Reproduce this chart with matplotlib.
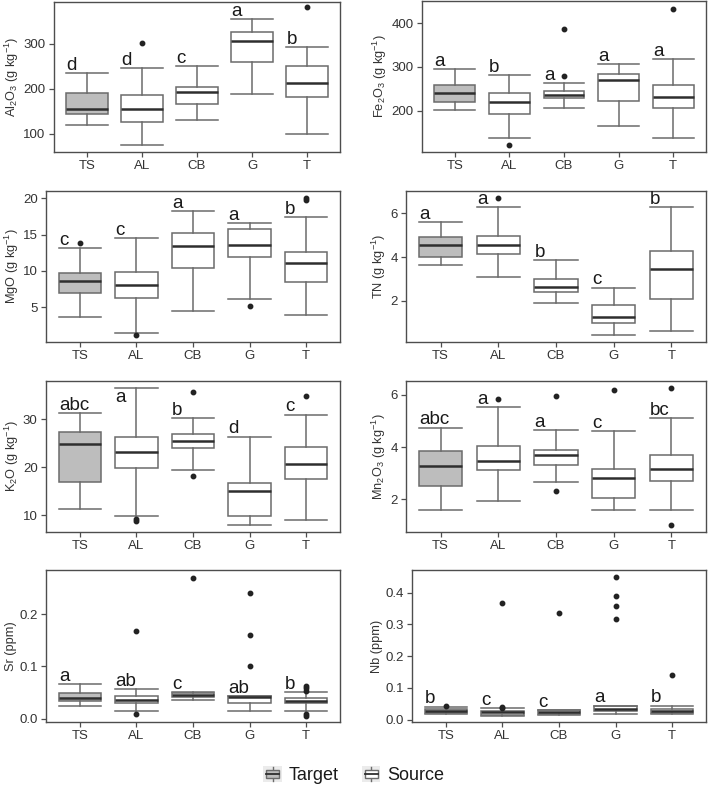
import matplotlib
matplotlib.use('Agg')
import matplotlib.pyplot as plt
from matplotlib.legend_handler import HandlerBase
from matplotlib.patches import Rectangle, Patch
from matplotlib.lines import Line2D

plt.rcParams['font.family'] = ['Liberation Sans', 'DejaVu Sans']
plt.rcParams['mathtext.fontset'] = 'custom'
plt.rcParams['mathtext.rm'] = 'Liberation Sans'
plt.rcParams['mathtext.it'] = 'Liberation Sans:italic'
plt.rcParams['mathtext.bf'] = 'Liberation Sans:bold'

groups = ['TS', 'AL', 'CB', 'G', 'T']

# ---- Al2O3 ----
al2o3_whislo = [119, 75, 130, 188, 100]
al2o3_q1 = [144, 127, 167, 259, 183]
al2o3_med = [155, 156, 193, 307, 213]
al2o3_q3 = [192, 187, 204, 326, 252]
al2o3_whishi = [235, 247, 250, 355, 292]
al2o3_fliers = [[], [302], [], [], [381]]
al2o3_letters = ['d', 'd', 'c', 'a', 'b']

# ---- Fe2O3 ----
fe2o3_whislo = [202, 136, 206, 164, 136]
fe2o3_q1 = [219, 193, 228, 221, 205]
fe2o3_med = [241, 220, 236, 269, 232]
fe2o3_q3 = [258, 240, 245, 284, 258]
fe2o3_whishi = [296, 282, 264, 306, 318]
fe2o3_fliers = [[], [121], [387, 279], [], [433]]
fe2o3_letters = ['a', 'b', 'a', 'a', 'a']

# ---- MgO ----
mgo_whislo = [3.67, 1.46, 4.45, 6.2, 4.0]
mgo_q1 = [7.03, 6.29, 10.39, 11.9, 8.5]
mgo_med = [8.6, 8.04, 13.42, 13.5, 11.08]
mgo_q3 = [9.7, 9.79, 15.17, 15.77, 12.64]
mgo_whishi = [13.15, 14.57, 18.2, 16.55, 17.42]
mgo_fliers = [[13.9], [1.14], [], [5.19], [20.0, 19.7]]
mgo_letters = ['c', 'c', 'a', 'a', 'b']

# ---- TN ----
tn_whislo = [3.62, 3.1, 1.92, 0.43, 0.61]
tn_q1 = [4.0, 4.12, 2.4, 0.98, 2.1]
tn_med = [4.53, 4.53, 2.64, 1.25, 3.44]
tn_q3 = [4.93, 4.98, 3.0, 1.83, 4.29]
tn_whishi = [5.6, 6.3, 3.88, 2.61, 6.3]
tn_fliers = [[], [6.72], [], [], []]
tn_letters = ['a', 'a', 'b', 'c', 'b']

# ---- K2O ----
k2o_whislo = [11.25, 9.8, 19.4, 8.0, 8.96]
k2o_q1 = [16.8, 19.8, 23.96, 9.8, 17.6]
k2o_med = [24.8, 23.1, 25.55, 15.1, 20.6]
k2o_q3 = [27.3, 26.4, 27.0, 16.7, 24.2]
k2o_whishi = [31.25, 36.6, 30.3, 26.4, 31.0]
k2o_fliers = [[], [9.17, 8.7], [35.6, 18.1], [], [34.9]]
k2o_letters = ['abc', 'a', 'b', 'd', 'c']

# ---- Mn2O3 ----
mn2o3_whislo = [1.58, 1.95, 2.66, 1.6, 1.6]
mn2o3_q1 = [2.52, 3.11, 3.32, 2.05, 2.71]
mn2o3_med = [3.29, 3.48, 3.69, 2.82, 3.17]
mn2o3_q3 = [3.85, 4.06, 3.89, 3.17, 3.71]
mn2o3_whishi = [4.75, 5.52, 4.65, 4.62, 5.1]
mn2o3_fliers = [[], [5.85], [5.97, 2.31], [6.19], [6.28, 1.03]]
mn2o3_letters = ['abc', 'a', 'a', 'c', 'bc']

# ---- Sr ----
sr_whislo = [0.0236, 0.0153, 0.0363, 0.0146, 0.0153]
sr_q1 = [0.0338, 0.030, 0.0414, 0.0293, 0.0306]
sr_med = [0.040, 0.0357, 0.0459, 0.0415, 0.0344]
sr_q3 = [0.049, 0.0427, 0.0497, 0.0433, 0.0395]
sr_whishi = [0.0669, 0.0573, 0.052, 0.0433, 0.0516]
sr_fliers = [[], [0.1675, 0.0096], [0.269], [0.241, 0.160, 0.100],
             [0.063, 0.058, 0.054, 0.0102, 0.0057]]
sr_letters = ['a', 'ab', 'c', 'ab', 'b']

# ---- Nb ----
nb_whislo = [0.018, 0.0127, 0.016, 0.019, 0.017]
nb_q1 = [0.021, 0.0148, 0.019, 0.0265, 0.021]
nb_med = [0.0275, 0.0233, 0.0254, 0.035, 0.0286]
nb_q3 = [0.034, 0.0286, 0.0296, 0.0434, 0.035]
nb_whishi = [0.0413, 0.037, 0.0307, 0.0444, 0.0444]
nb_fliers = [[0.043], [0.367, 0.041, 0.037], [0.335],
             [0.45, 0.388, 0.359, 0.317], [0.142]]
nb_letters = ['b', 'c', 'c', 'a', 'b']

panels = [
    dict(label=r'Al$_2$O$_3$ (g kg$^{-1}$)', lo=al2o3_whislo, q1=al2o3_q1, med=al2o3_med,
         q3=al2o3_q3, hi=al2o3_whishi, fl=al2o3_fliers, let=al2o3_letters,
         ylim=(60, 393), ticks=[100, 200, 300], fmt='{:g}', rect=(54, 2, 340, 152)),
    dict(label=r'Fe$_2$O$_3$ (g kg$^{-1}$)', lo=fe2o3_whislo, q1=fe2o3_q1, med=fe2o3_med,
         q3=fe2o3_q3, hi=fe2o3_whishi, fl=fe2o3_fliers, let=fe2o3_letters,
         ylim=(105, 451), ticks=[200, 300, 400], fmt='{:g}', rect=(422, 1, 706, 152)),
    dict(label=r'MgO (g kg$^{-1}$)', lo=mgo_whislo, q1=mgo_q1, med=mgo_med,
         q3=mgo_q3, hi=mgo_whishi, fl=mgo_fliers, let=mgo_letters,
         ylim=(0.22, 21.0), ticks=[5, 10, 15, 20], fmt='{:g}', rect=(46, 191, 340, 342)),
    dict(label=r'TN (g kg$^{-1}$)', lo=tn_whislo, q1=tn_q1, med=tn_med,
         q3=tn_q3, hi=tn_whishi, fl=tn_fliers, let=tn_letters,
         ylim=(0.12, 7.02), ticks=[2, 4, 6], fmt='{:g}', rect=(406, 191, 706, 342)),
    dict(label=r'K$_2$O (g kg$^{-1}$)', lo=k2o_whislo, q1=k2o_q1, med=k2o_med,
         q3=k2o_q3, hi=k2o_whishi, fl=k2o_fliers, let=k2o_letters,
         ylim=(6.46, 38.0), ticks=[10, 20, 30], fmt='{:g}', rect=(46, 381, 340, 532)),
    dict(label=r'Mn$_2$O$_3$ (g kg$^{-1}$)', lo=mn2o3_whislo, q1=mn2o3_q1, med=mn2o3_med,
         q3=mn2o3_q3, hi=mn2o3_whishi, fl=mn2o3_fliers, let=mn2o3_letters,
         ylim=(0.75, 6.53), ticks=[2, 4, 6], fmt='{:g}', rect=(406, 381, 706, 532)),
    dict(label='Sr (ppm)', lo=sr_whislo, q1=sr_q1, med=sr_med,
         q3=sr_q3, hi=sr_whishi, fl=sr_fliers, let=sr_letters,
         ylim=(-0.006, 0.284), ticks=[0.0, 0.1, 0.2], fmt='{:.1f}', rect=(46, 570, 340, 722)),
    dict(label='Nb (ppm)', lo=nb_whislo, q1=nb_q1, med=nb_med,
         q3=nb_q3, hi=nb_whishi, fl=nb_fliers, let=nb_letters,
         ylim=(-0.0074, 0.471), ticks=[0.0, 0.1, 0.2, 0.3, 0.4], fmt='{:.1f}', rect=(412, 570, 706, 722)),
]

W, H = 708, 788
fig = plt.figure(figsize=(W / 100, H / 100), dpi=100)
fig.patch.set_facecolor('white')

EDGE = '#6b6b6b'
MED = '#2e2e2e'
TARGET_FILL = '#bdbdbd'
SPINE = '#4d4d4d'
TXT = '#333333'
BW = 0.75

for p in panels:
    l, t, r, b = p['rect']
    ax = fig.add_axes([l / W, 1 - b / H, (r - l) / W, (b - t) / H])
    stats = []
    for i, g in enumerate(groups):
        stats.append(dict(label=g, whislo=p['lo'][i], q1=p['q1'][i], med=p['med'][i],
                          q3=p['q3'][i], whishi=p['hi'][i], fliers=p['fl'][i]))
    pos = list(range(1, len(groups) + 1))
    res = ax.bxp(stats, positions=pos, widths=BW, capwidths=BW, patch_artist=True,
                 showfliers=True,
                 boxprops=dict(edgecolor=EDGE, linewidth=1.1),
                 whiskerprops=dict(color=EDGE, linewidth=1.1),
                 capprops=dict(color=EDGE, linewidth=1.1),
                 medianprops=dict(color=MED, linewidth=1.8),
                 flierprops=dict(marker='o', markersize=3.2, markerfacecolor='#222222',
                                 markeredgecolor='#222222', linestyle='none'))
    for i, box in enumerate(res['boxes']):
        box.set_facecolor(TARGET_FILL if i == 0 else 'white')
    ax.set_xlim(0.4, 5.6)
    ax.set_ylim(*p['ylim'])
    ax.set_yticks(p['ticks'])
    ax.set_yticklabels([p['fmt'].format(v) for v in p['ticks']])
    ax.set_xticks(pos)
    ax.set_xticklabels(groups)
    ax.tick_params(axis='both', colors=SPINE, labelcolor=TXT, labelsize=9.5,
                   length=3.5, width=0.9, pad=2.5)
    for s in ax.spines.values():
        s.set_color(SPINE)
        s.set_linewidth(1.0)
    ax.set_ylabel(p['label'], fontsize=9.2, color=TXT, labelpad=1.5)

    # significance letters
    ymin, ymax = p['ylim']
    ax_h_px = (b - t)
    px_per_unit = ax_h_px / (ymax - ymin)
    for i, letter in enumerate(p['let']):
        top = p['hi'][i]
        gap_px = (ymax - top) * px_per_unit
        if gap_px < 12:
            ax.annotate(letter, xy=(pos[i] - 0.37, 1.0), xycoords=('data', 'axes fraction'),
                        xytext=(0, -6), textcoords='offset points',
                        ha='left', va='top', fontsize=13.5, color='#1a1a1a')
        else:
            ax.annotate(letter, xy=(pos[i] - 0.37, top), xycoords='data',
                        xytext=(0, 2.2), textcoords='offset points',
                        ha='left', va='baseline', fontsize=13.5, color='#1a1a1a')


class BoxHandler(HandlerBase):
    def __init__(self, face):
        super().__init__()
        self.face = face

    def create_artists(self, legend, orig_handle, xdescent, ydescent, width,
                       height, fontsize, trans):
        x0, y0 = -xdescent, -ydescent
        arts = []
        bg = Rectangle((x0, y0), width, height, facecolor='#ebebeb',
                       edgecolor='none', transform=trans)
        arts.append(bg)
        cx = x0 + width / 2
        arts.append(Line2D([cx, cx], [y0 + 0.08 * height, y0 + 0.92 * height],
                           color=EDGE, lw=1.0, transform=trans))
        box = Rectangle((x0 + 0.15 * width, y0 + 0.28 * height), 0.7 * width,
                        0.44 * height, facecolor=self.face, edgecolor=EDGE,
                        lw=1.0, transform=trans)
        arts.append(box)
        arts.append(Line2D([x0 + 0.15 * width, x0 + 0.85 * width],
                           [y0 + 0.5 * height, y0 + 0.5 * height],
                           color=MED, lw=1.3, transform=trans))
        return arts


h_target = Patch(facecolor=TARGET_FILL)
h_source = Patch(facecolor='white')
fig.legend([h_target, h_source], ['Target', 'Source'], loc='center',
           bbox_to_anchor=(354 / W, 1 - 775 / H), ncol=2, frameon=False,
           fontsize=13, handlelength=1.0, handleheight=1.0, handletextpad=0.4,
           columnspacing=1.3,
           handler_map={h_target: BoxHandler(TARGET_FILL),
                        h_source: BoxHandler('white')},
           labelcolor='#1a1a1a')

fig.savefig('out.png', dpi=100)
